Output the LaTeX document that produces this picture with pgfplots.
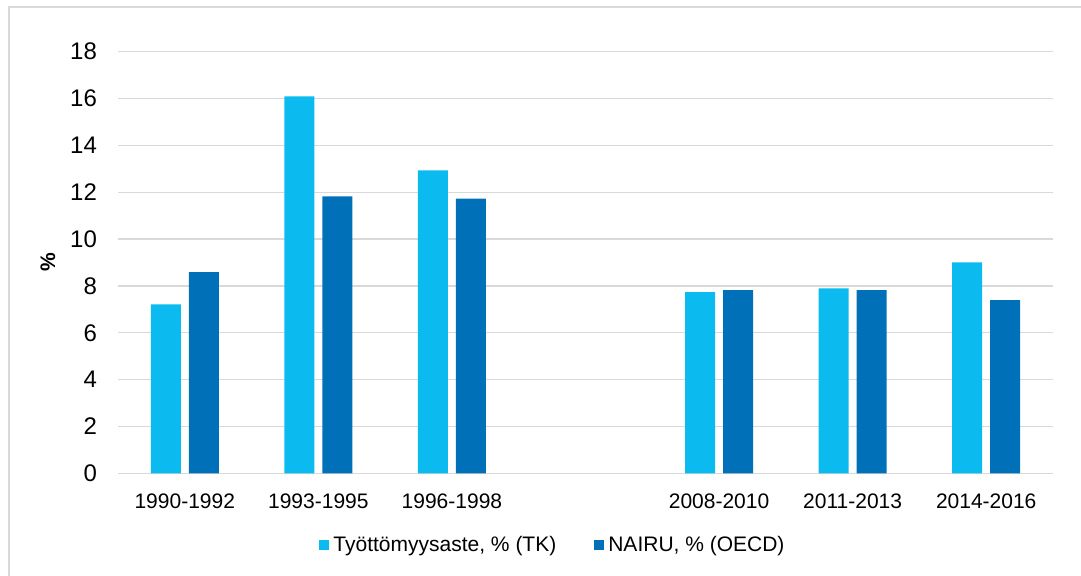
\documentclass[border=0pt]{standalone}
\usepackage{fontspec}
\setmainfont{Liberation Sans}
\usepackage{pgfplots}
\pgfplotsset{compat=1.18}
\definecolor{tk}{HTML}{0BBBEF}
\definecolor{nairu}{HTML}{0070B9}
\definecolor{gridgray}{HTML}{D9D9D9}
\begin{document}
\begin{tikzpicture}
\path[use as bounding box] (0,0) rectangle (540.5pt,-288pt);
\draw[gridgray, line width=0.75pt] (4.5pt,-300pt) -- (4.5pt,-3.5pt) -- (560pt,-3.5pt);
\begin{axis}[
  at={(59pt,-236.65pt)}, anchor=south west,
  scale only axis, width=467.5pt, height=210.8pt,
  xmin=-0.5, xmax=6.5, ymin=0, ymax=18,
  ytick={0,2,...,18},
  xtick={0,1,2,4,5,6},
  xticklabels={1990-1992,1993-1995,1996-1998,2008-2010,2011-2013,2014-2016},
  axis line style={draw=none},
  major tick length=0pt,
  ymajorgrids=true, xmajorgrids=false,
  major grid style={draw=gridgray, line width=0.7pt},
  /pgf/number format/assume math mode=true,
  yticklabel style={font=\fontsize{12}{14}\selectfont, xshift=-7pt},
  xticklabel style={font=\fontsize{10.5}{12}\selectfont, yshift=-6.5pt},
  every axis y label/.style={at={(rel axis cs:0,0.5)}, xshift=-35pt, rotate=90, anchor=center, font=\bfseries\fontsize{10.5}{12}\selectfont},
  ylabel={\%},
  ybar, bar width=15pt,
  legend columns=2,
  legend style={draw=none, fill=none, font=\fontsize{10.5}{12}\selectfont,
    at={(0.4663,-0.170)}, anchor=center,
    /tikz/every even column/.append style={column sep=17pt},
    inner sep=0pt},
  legend image code/.code={\fill[#1] (0pt,-2.5pt) rectangle (5pt,2.5pt);},
]
\addplot[fill=tk, draw=none, bar shift=-9.5pt] coordinates {(0,7.21) (1,16.09) (2,12.93) (4,7.73) (5,7.90) (6,9.01)};
\addplot[fill=nairu, draw=none, bar shift=9.5pt] coordinates {(0,8.59) (1,11.82) (2,11.73) (4,7.82) (5,7.82) (6,7.39)};
\legend{{Työttömyysaste, \% (TK)}, {NAIRU, \% (OECD)}}
\end{axis}
\end{tikzpicture}
\end{document}
